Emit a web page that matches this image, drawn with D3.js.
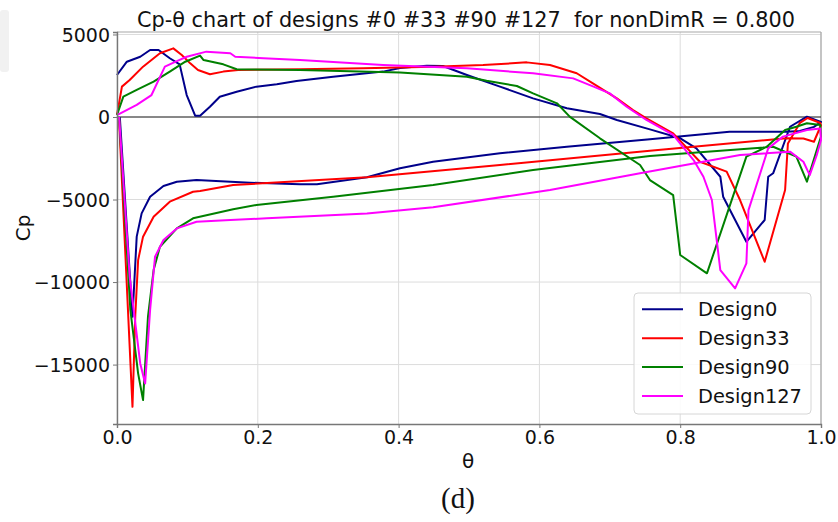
<!DOCTYPE html>
<html lang="en">
<head>
<meta charset="UTF-8">
<title>Cp-theta chart</title>
<script src="https://d3js.org/d3.v7.min.js"></script>
<style>
    body { margin: 0; background: #fff; }
    svg text { font-family: "DejaVu Sans", sans-serif; fill: #111; white-space: pre; }
</style>
</head>
<body>
<svg width="838" height="522"></svg>
<script>
    // each design is one polyline: upper side 0 -> 1, then lower side 1 -> 0
    const design0Theta = [0, 0.014, 0.033, 0.047, 0.059, 0.075, 0.089, 0.099, 0.111, 0.118, 0.132, 0.146, 0.17, 0.198, 0.227, 0.255, 0.307, 0.378, 0.402, 0.44, 0.463, 0.497, 0.544, 0.591, 0.639, 0.686, 0.71, 0.757, 0.799, 0.823, 0.857, 0.861, 0.894, 0.92, 0.925, 0.932, 0.956, 0.98, 0.999,
        1.0, 0.99, 0.97, 0.951, 0.87, 0.757, 0.639, 0.544, 0.449, 0.402, 0.355, 0.284, 0.26, 0.189, 0.113, 0.085, 0.066, 0.047, 0.035, 0.028, 0.022, 0.004];
    const design0Cp = [2545, 3350, 3650, 4060, 4060, 3560, 3190, 1330, 80, 80, 620, 1230, 1530, 1840, 1980, 2180, 2440, 2750, 2970, 3110, 3090, 2545, 1840, 1130, 530, 180, -180, -750, -1270, -1900, -3620, -4830, -7560, -6240, -3620, -3410, -590, 20, -280,
        -300, -600, -850, -890, -890, -1350, -1800, -2200, -2710, -3110, -3650, -4080, -4080, -3980, -3820, -3920, -4180, -4830, -5840, -7250, -12100, 0];

    const design33Theta = [0, 0.007, 0.018, 0.037, 0.061, 0.08, 0.092, 0.104, 0.115, 0.132, 0.151, 0.172, 0.26, 0.35, 0.449, 0.52, 0.582, 0.615, 0.653, 0.676, 0.71, 0.733, 0.752, 0.79, 0.828, 0.866, 0.885, 0.92, 0.949, 0.953, 0.97, 0.981, 0.999,
        1.0, 0.99, 0.975, 0.951, 0.757, 0.544, 0.355, 0.165, 0.118, 0.108, 0.075, 0.052, 0.037, 0.03, 0.026, 0.022, 0.003];
    const design33Cp = [120, 1840, 2240, 3050, 3860, 4160, 3760, 3250, 2850, 2590, 2750, 2850, 2890, 2950, 3050, 3150, 3310, 3150, 2650, 2040, 1130, 420, -80, -990, -2710, -3310, -5030, -8770, -4420, -1600, -360, -60, -360,
        -500, -1500, -1300, -1290, -2040, -2910, -3650, -4120, -4480, -4530, -5130, -6040, -7250, -8670, -12000, -17560, -200];

    const design90Theta = [0, 0.009, 0.028, 0.052, 0.075, 0.097, 0.118, 0.123, 0.151, 0.17, 0.26, 0.402, 0.497, 0.525, 0.568, 0.591, 0.625, 0.643, 0.686, 0.743, 0.757, 0.79, 0.8, 0.838, 0.894, 0.923, 0.949, 0.965, 0.98, 0.999,
        1.0, 0.994, 0.98, 0.965, 0.932, 0.757, 0.591, 0.449, 0.307, 0.198, 0.165, 0.108, 0.085, 0.061, 0.052, 0.044, 0.037, 0.03, 0.019, 0.003];
    const design90Cp = [120, 1230, 1640, 2140, 2750, 3350, 3720, 3450, 3190, 2890, 2850, 2690, 2440, 2200, 1880, 1430, 830, 20, -1290, -2910, -3820, -4730, -8360, -9470, -2400, -1800, -790, -590, -380, -480,
        -1190, -2000, -3920, -2400, -1800, -2360, -3210, -4120, -4830, -5330, -5590, -6140, -6750, -7860, -9270, -12100, -17150, -15530, -11700, 0];

    const design127Theta = [0, 0.028, 0.049, 0.068, 0.085, 0.099, 0.127, 0.161, 0.168, 0.208, 0.26, 0.378, 0.497, 0.591, 0.648, 0.677, 0.70, 0.724, 0.752, 0.79, 0.819, 0.833, 0.845, 0.857, 0.878, 0.894, 0.897, 0.925, 0.946, 0.98, 0.999,
        1.0, 0.994, 0.984, 0.975, 0.956, 0.885, 0.743, 0.615, 0.449, 0.355, 0.213, 0.161, 0.113, 0.085, 0.066, 0.054, 0.047, 0.04, 0.033, 0.018, 0.003];
    const design127Cp = [120, 730, 1330, 3050, 3390, 3650, 3960, 3860, 3650, 3560, 3450, 3150, 2950, 2650, 2340, 1840, 1430, 620, -180, -1090, -2610, -3620, -5030, -9270, -10380, -8870, -5640, -1900, -1190, -790, -690,
        -1390, -2300, -3520, -2710, -2100, -2300, -3410, -4420, -5470, -5840, -6140, -6240, -6350, -6750, -7450, -8470, -11700, -16140, -14930, -9680, 0];

    const designNames = ["Design0", "Design33", "Design90", "Design127"];
    const designColors = ["#00008b", "#ff0000", "#008000", "#ff00ff"];
    const xTicks = [0, 0.2, 0.4, 0.6, 0.8, 1.0];
    const yTicks = [-15000, -10000, -5000, 0, 5000];

    const series = [
        {name: designNames[0], color: designColors[0], theta: design0Theta, cp: design0Cp},
        {name: designNames[1], color: designColors[1], theta: design33Theta, cp: design33Cp},
        {name: designNames[2], color: designColors[2], theta: design90Theta, cp: design90Cp},
        {name: designNames[3], color: designColors[3], theta: design127Theta, cp: design127Cp}
    ];

    let svg = d3.select("svg");
    const plotLeft = 117, plotRight = 821, plotTop = 32, plotBottom = 424;

    let x = d3.scaleLinear().domain([0, 1]).range([plotLeft, plotRight]);
    let y = d3.scaleLinear().domain([-18600, 5150]).range([plotBottom, plotTop]);

    // faint artefact at the left edge of the source image
    svg.append("rect").attr("x", 0).attr("y", 10).attr("width", 9).attr("height", 62)
        .attr("rx", 3).attr("fill", "#f1f1f1");

    // grid
    let grid = svg.append("g");
    grid.selectAll("line.vx").data(xTicks).enter().append("line")
        .attr("x1", d => x(d)).attr("x2", d => x(d))
        .attr("y1", plotTop).attr("y2", plotBottom)
        .attr("stroke", "#dcdcdc").attr("stroke-width", 1);
    grid.selectAll("line.hy").data(yTicks).enter().append("line")
        .attr("x1", plotLeft).attr("x2", plotRight)
        .attr("y1", d => y(d)).attr("y2", d => y(d))
        .attr("stroke", "#dcdcdc").attr("stroke-width", 1);

    // top / right frame
    svg.append("line").attr("x1", plotLeft).attr("x2", plotRight).attr("y1", plotTop).attr("y2", plotTop)
        .attr("stroke", "#a8a8a8").attr("stroke-width", 1.2);
    svg.append("line").attr("x1", plotRight).attr("x2", plotRight).attr("y1", plotTop).attr("y2", plotBottom)
        .attr("stroke", "#a8a8a8").attr("stroke-width", 1.2);

    // zero line
    svg.append("line").attr("x1", plotLeft).attr("x2", plotRight)
        .attr("y1", y(0)).attr("y2", y(0))
        .attr("stroke", "#222").attr("stroke-width", 1.2);

    let line = d3.line()
        .x(d => x(d[0]))
        .y(d => y(d[1]));

    svg.append("g").selectAll("path")
        .data(series)
        .enter()
        .append("path")
        .attr("d", s => line(s.theta.map((t, i) => [t, s.cp[i]])))
        .attr("fill", "none")
        .attr("stroke", s => s.color)
        .attr("stroke-width", 2)
        .attr("stroke-linejoin", "round");

    // axes
    let xAxis = svg.append("g").attr("transform", `translate(0,${plotBottom})`)
        .call(d3.axisBottom(x).tickValues(xTicks).tickFormat(d3.format(".1f"))
            .tickSize(4).tickPadding(3));
    let yAxis = svg.append("g").attr("transform", `translate(${plotLeft},0)`)
        .call(d3.axisLeft(y).tickValues(yTicks).tickFormat(d3.format("d"))
            .tickSize(4).tickPadding(3));

    [xAxis, yAxis].forEach(a => {
        a.select(".domain").attr("stroke", "#777").attr("stroke-width", 1.4);
        a.selectAll(".tick line").attr("stroke", "#777");
        a.selectAll(".tick text").style("font-size", "19px")
            .style("font-family", "DejaVu Sans").attr("fill", "#111");
    });
    yAxis.selectAll(".tick text").attr("dy", "0.36em");
    xAxis.selectAll(".tick text").attr("dy", "0.68em");

    // labels
    svg.append("text").attr("x", 466).attr("y", 27).attr("text-anchor", "middle")
        .style("font-size", "20.8px")
        .text("Cp-θ chart of designs #0 #33 #90 #127  for nonDimR = 0.800");
    svg.append("text").attr("x", 468).attr("y", 468).attr("text-anchor", "middle")
        .style("font-size", "20px").text("θ");
    svg.append("text").attr("transform", `translate(30,${(plotTop + plotBottom) / 2}) rotate(-90)`)
        .attr("text-anchor", "middle").style("font-size", "20px").text("Cp");
    svg.append("text").attr("x", 458).attr("y", 508).attr("text-anchor", "middle")
        .style("font-family", "Liberation Serif, serif").style("font-size", "29px")
        .text("(d)");

    // legend
    let legend = svg.append("g");
    legend.append("rect").attr("x", 634).attr("y", 293).attr("width", 177).attr("height", 121)
        .attr("rx", 4).attr("fill", "white").attr("fill-opacity", 0.85)
        .attr("stroke", "#d6d6d6").attr("stroke-width", 1);
    let items = legend.selectAll("g.item").data(series).enter().append("g")
        .attr("transform", (d, i) => `translate(0,${309.3 + i * 28.9})`);
    items.append("line").attr("x1", 642).attr("x2", 683).attr("y1", 0).attr("y2", 0)
        .attr("stroke", d => d.color).attr("stroke-width", 2);
    items.append("text").attr("x", 698).attr("y", 7).style("font-size", "19.4px")
        .text(d => d.name);
</script>
</body>
</html>
